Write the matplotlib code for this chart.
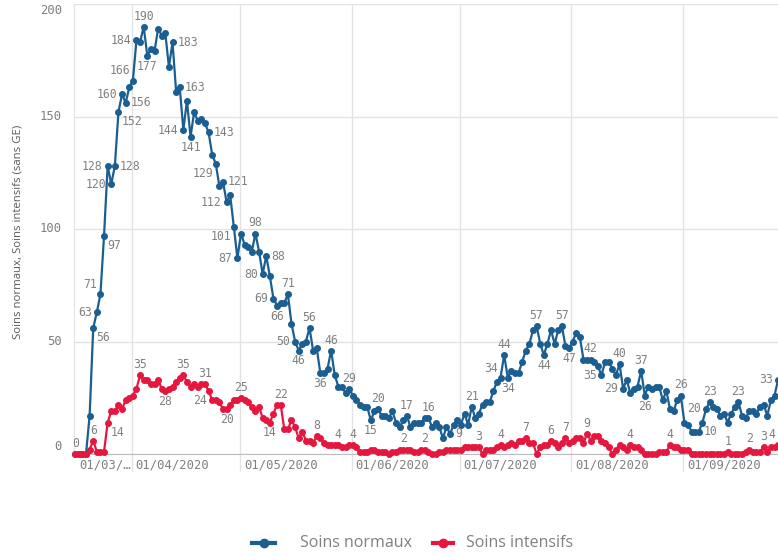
import pandas as pd
import matplotlib.pyplot as plt
import matplotlib.dates as mdates
from matplotlib.lines import Line2D
from matplotlib.transforms import blended_transform_factory

# Data (daily, starting 16/03/2020)
start = pd.Timestamp('2020-03-16')
normaux = [
    0, 0, 0, 0, 17, 56, 63, 71, 97, 128,
    120, 128, 152, 160, 156, 163, 166, 184, 183, 190,
    177, 180, 179, 189, 186, 187, 172, 183, 161, 163,
    144, 157, 141, 152, 148, 149, 147, 143, 133, 129,
    119, 121, 112, 115, 101, 87, 98, 93, 92, 90,
    98, 90, 80, 88, 79, 69, 66, 67, 67, 71,
    58, 50, 46, 49, 50, 56, 46, 47, 36, 36,
    38, 46, 35, 30, 30, 27, 29, 26, 24, 22,
    21, 21, 15, 19, 20, 17, 17, 16, 19, 14,
    12, 15, 17, 12, 14, 14, 14, 16, 16, 12,
    14, 12, 7, 12, 9, 13, 15, 13, 18, 13,
    21, 16, 18, 22, 23, 23, 28, 32, 34, 44,
    34, 37, 36, 36, 41, 46, 49, 55, 57, 49,
    44, 49, 55, 49, 55, 57, 48, 47, 50, 54,
    52, 42, 42, 42, 41, 39, 35, 41, 41, 38,
    35, 40, 29, 33, 27, 29, 30, 37, 26, 30,
    29, 30, 30, 24, 28, 20, 19, 24, 26, 14,
    13, 10, 10, 10, 14, 20, 23, 21, 20, 17,
    18, 14, 18, 21, 23, 17, 16, 19, 19, 18,
    21, 22, 17, 24, 26, 33,
]
intensifs = [
    0, 0, 0, 0, 2, 6, 1, 1, 1, 14,
    19, 19, 22, 20, 24, 25, 26, 29, 35, 33,
    33, 31, 31, 33, 29, 28, 29, 30, 32, 34,
    35, 32, 30, 31, 30, 31, 31, 28, 24, 24,
    23, 20, 20, 22, 24, 24, 25, 24, 23, 21,
    19, 21, 16, 15, 14, 18, 22, 22, 11, 11,
    15, 12, 7, 10, 6, 6, 5, 8, 7, 5,
    4, 4, 4, 4, 3, 3, 4, 4, 3, 1,
    1, 1, 2, 2, 1, 1, 1, 0, 1, 1,
    2, 2, 2, 2, 1, 1, 2, 2, 1, 0,
    0, 1, 1, 2, 2, 2, 2, 2, 3, 3,
    3, 3, 3, 0, 2, 2, 2, 3, 4, 3,
    4, 5, 4, 6, 6, 7, 5, 5, 0, 3,
    4, 4, 6, 5, 3, 5, 7, 5, 6, 7,
    7, 5, 9, 6, 8, 8, 6, 5, 3, 0,
    2, 4, 3, 2, 4, 3, 3, 2, 0, 0,
    0, 0, 1, 1, 1, 4, 3, 3, 2, 2,
    2, 0, 0, 0, 0, 0, 0, 0, 0, 0,
    0, 1, 0, 0, 0, 0, 1, 2, 1, 1,
    1, 3, 1, 3, 3, 4,
]
dates = pd.date_range(start, periods=len(normaux), freq='D') + pd.Timedelta(hours=8)
xnum = mdates.date2num(dates)

y_ticks = [0, 50, 100, 150, 200]
month_starts = pd.to_datetime(['2020-04-01', '2020-05-01', '2020-06-01',
                               '2020-07-01', '2020-08-01', '2020-09-01'])
month_labels = ['01/04/2020', '01/05/2020', '01/06/2020',
                '01/07/2020', '01/08/2020', '01/09/2020']
first_label = '01/03/\u2026'

# which points carry a value label, and where the label sits
labels_normaux = [(0, 't'), (5, 'rb'), (6, 'l'), (7, 'lt'), (8, 'rb'), (9, 'l'),
                  (10, 'l'), (11, 'r'), (12, 'rb'), (13, 'l'), (14, 'r'), (16, 'lt'),
                  (17, 'l'), (19, 't'), (20, 'b'), (27, 'r'), (29, 'r'), (30, 'l'),
                  (32, 'b'), (37, 'r'), (39, 'lb'), (41, 'r'), (42, 'l'), (44, 'lb'),
                  (45, 'l'), (50, 't'), (52, 'l'), (53, 'r'), (55, 'l'), (56, 'b'),
                  (59, 't'), (61, 'l'), (62, 'b'), (65, 't'), (68, 'b'), (71, 't'),
                  (76, 't'), (82, 'b'), (84, 't'), (92, 't'), (98, 't'), (104, 'r'),
                  (110, 't'), (118, 'lt'), (119, 't'), (120, 'b'), (128, 't'),
                  (130, 'b'), (135, 't'), (137, 'b'), (143, 't'), (146, 'l'),
                  (151, 't'), (152, 'l'), (157, 't'), (158, 'b'), (168, 't'),
                  (173, 'r'), (175, 'l'), (176, 't'), (184, 't'), (195, 'l')]
labels_intensifs = [(5, 't'), (9, 'rb'), (18, 't'), (25, 'b'), (30, 't'), (36, 't'),
                    (38, 'l'), (42, 'b'), (46, 't'), (54, 'b'), (57, 't'), (67, 't'),
                    (73, 't'), (77, 't'), (91, 't'), (97, 't'), (112, 't'), (118, 't'),
                    (125, 't'), (132, 't'), (136, 't'), (142, 't'), (154, 't'),
                    (165, 't'), (181, 't'), (187, 't'), (191, 't'), (195, 'tl')]

BLUE = '#1a5e92'
RED = '#e5173f'
GRID = '#e3e3e3'
TXT = '#808080'
MONO = 'DejaVu Sans Mono'

W, H = 778, 555
fig = plt.figure(figsize=(W / 100, H / 100), dpi=100)
ax = fig.add_axes([74 / W, (H - 454) / H, 704 / W, 450 / H])

ax.plot(xnum, normaux, color=BLUE, lw=1.6, marker='o', ms=4, clip_on=False, zorder=3)
ax.plot(xnum, intensifs, color=RED, lw=1.6, marker='o', ms=4, clip_on=False, zorder=3)

x0 = mdates.date2num(start)
ax.set_xlim(x0, x0 + 195.3)
ax.set_ylim(0, 200)

# grid / axes styling
ax.set_yticks(y_ticks)
ax.set_yticklabels([])
ax.tick_params(axis='y', length=0)
ytrans = blended_transform_factory(ax.transAxes, ax.transData)
for v in y_ticks:
    dy = -6 if v == 200 else (7 if v == 0 else 0)
    ax.annotate(str(v), xy=(0, v), xycoords=ytrans, xytext=(-12, dy),
                textcoords='offset pixels', ha='right', va='center', fontfamily=MONO,
                fontsize=8.8, color=TXT, annotation_clip=False)

mnum = mdates.date2num(month_starts)
ax.set_xticks(mnum)
ax.set_xticklabels([])
ax.tick_params(axis='x', length=12, width=1, color=GRID, direction='out')
ax.grid(True, color=GRID, lw=1, zorder=0)
ax.set_axisbelow(True)
for s in ['top', 'right']:
    ax.spines[s].set_visible(False)
ax.spines['left'].set_color(GRID)
ax.spines['bottom'].set_color('#bdbdbd')

# x labels to the right of each month line
trans = blended_transform_factory(ax.transData, ax.transAxes)
for d, lab in zip(mnum, month_labels):
    ax.annotate(lab, xy=(d, 0), xycoords=trans, xytext=(4, -11), textcoords='offset pixels',
                ha='left', va='center', fontfamily=MONO, fontsize=8.8, color=TXT,
                annotation_clip=False)
ax.annotate(first_label, xy=(0, 0), xycoords='axes fraction', xytext=(5, -11),
            textcoords='offset pixels', ha='left', va='center', fontfamily=MONO,
            fontsize=8.8, color=TXT, annotation_clip=False)

# value labels
OFFS = {'t': ((0, 4), 'center', 'bottom'), 'b': ((0, -4), 'center', 'top'),
        'l': ((-5, 0), 'right', 'center'), 'r': ((5, 0), 'left', 'center'),
        'lt': ((-3, 3), 'right', 'bottom'), 'lb': ((-3, -3), 'right', 'top'),
        'rt': ((3, 3), 'left', 'bottom'), 'rb': ((3, -3), 'left', 'top'),
        'tl': ((-3, 4), 'right', 'bottom')}
for series, lbls in [(normaux, labels_normaux), (intensifs, labels_intensifs)]:
    for i, pos in lbls:
        off, ha, va = OFFS[pos]
        ax.annotate(str(series[i]), xy=(xnum[i], series[i]), xytext=off,
                    textcoords='offset pixels', ha=ha, va=va, fontfamily=MONO,
                    fontsize=8.3, color=TXT, zorder=4, annotation_clip=False)

# y axis title
fig.text(18 / W, 1 - 232 / H, 'Soins normaux, Soins intensifs (sans GE)', rotation=90,
         ha='center', va='center', fontsize=8.2, color='#595959', fontfamily='Open Sans')

# legend drawn by hand
ly = 1 - 543 / H
for (xa, xb, xt, col, name) in [(252, 275, 300, BLUE, 'Soins normaux'),
                                (433, 453, 466, RED, 'Soins intensifs')]:
    fig.add_artist(Line2D([xa / W, xb / W], [ly, ly], color=col, lw=3))
    fig.add_artist(Line2D([(xa + xb) / 2 / W], [ly], color=col, marker='o', ms=6))
    fig.text(xt / W, ly, name, ha='left', va='center', fontsize=11.5, color=TXT,
             fontfamily='Open Sans')

fig.savefig('out.png', dpi=100)
